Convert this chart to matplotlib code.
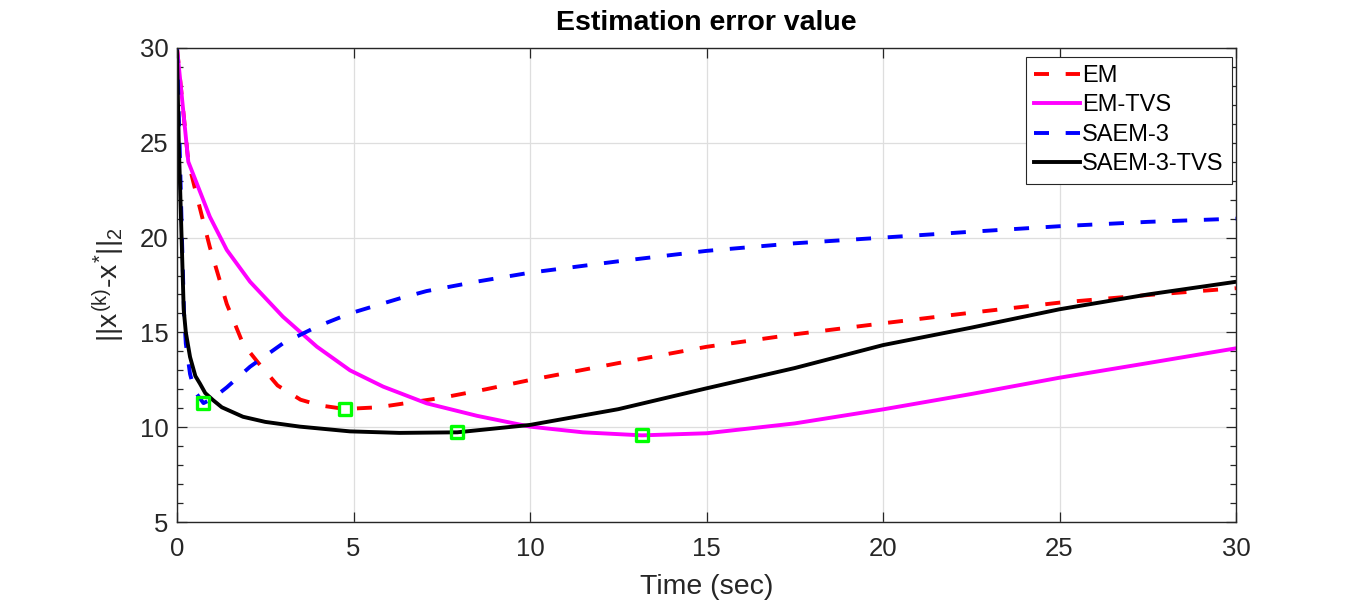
import matplotlib
matplotlib.use("Agg")
import matplotlib.pyplot as plt
from matplotlib.markers import MarkerStyle
from matplotlib.ticker import MultipleLocator

plt.rcParams['font.family'] = ['Liberation Sans', 'DejaVu Sans']
plt.rcParams['mathtext.fontset'] = 'custom'
plt.rcParams['mathtext.rm'] = 'Liberation Sans'
plt.rcParams['mathtext.it'] = 'Liberation Sans'
plt.rcParams['mathtext.bf'] = 'Liberation Sans:bold'
plt.rcParams['lines.scale_dashes'] = False

# ---- data ----
em_t = [0, 0.32, 0.56, 0.93, 1.41, 1.87, 2.3, 2.85, 3.5, 4.05, 4.76, 5.7, 6.6,
        7.5, 8.75, 10, 12.5, 15, 17.5, 20, 22.5, 25, 27.5, 30]
em_y = [30, 24.0, 22.2, 19.5, 16.5, 14.4, 13.4, 12.2, 11.45, 11.15, 10.96, 11.05, 11.3,
        11.55, 12.0, 12.49, 13.38, 14.24, 14.9, 15.48, 16.04, 16.57, 16.97, 17.33]

emtvs_t = [0, 0.32, 0.93, 1.41, 2.07, 3.0, 3.96, 4.9, 5.84, 7.07, 8.5, 10, 11.5,
           13.17, 15, 17.5, 20, 22.5, 25, 27.5, 30]
emtvs_y = [30, 24.0, 21.1, 19.35, 17.67, 15.83, 14.25, 13.0, 12.14, 11.26, 10.6, 10.03, 9.73,
           9.57, 9.68, 10.2, 10.94, 11.75, 12.61, 13.38, 14.16]

saem_t = [0, 0.08, 0.14, 0.2, 0.25, 0.37, 0.5, 0.75, 1.0, 1.41, 2.07, 3.0, 3.96, 4.9,
          6.32, 7.07, 8.5, 10, 12.5, 15, 17.5, 20, 22.5, 25, 27.5, 30]
saem_y = [30, 24.5, 20.0, 16.0, 14.4, 12.8, 11.9, 11.27, 11.5, 12.1, 13.19, 14.42, 15.3, 16.0,
          16.8, 17.18, 17.68, 18.15, 18.75, 19.3, 19.7, 20.0, 20.31, 20.6, 20.83, 21.0]

saemtvs_t = [0, 0.05, 0.13, 0.19, 0.25, 0.37, 0.52, 0.65, 0.8, 1.02, 1.27, 1.87, 2.5,
             3.48, 4.9, 6.3, 7.94, 10, 12.5, 15, 17.5, 20, 22.5, 25, 27.5, 30]
saemtvs_y = [29.8, 25.0, 20.0, 16.2, 15.0, 13.7, 12.7, 12.3, 11.8, 11.43, 11.05, 10.55, 10.28,
             10.03, 9.78, 9.7, 9.73, 10.12, 10.95, 12.05, 13.12, 14.33, 15.25, 16.22, 17.0, 17.67]

marker_t = [0.75, 4.76, 7.94, 13.17]
marker_y = [11.27, 10.96, 9.73, 9.57]

labels = ['EM', 'EM-TVS', 'SAEM-3', 'SAEM-3-TVS']
xticks = [0, 5, 10, 15, 20, 25, 30]
yticks = [5, 10, 15, 20, 25, 30]

# ---- figure ----
W, H = 1366, 604
fig = plt.figure(figsize=(W / 100, H / 100), dpi=100)
L, R, T, B = 177, 1236, 48, 522
ax = fig.add_axes([L / W, 1 - B / H, (R - L) / W, (B - T) / H])

lw = 2.8
dash = (10.8, 12.0)
ax.plot(em_t, em_y, color='#ff0000', lw=lw, dashes=dash, label=labels[0])
ax.plot(emtvs_t, emtvs_y, color='#ff00ff', lw=lw, label=labels[1])
ax.plot(saem_t, saem_y, color='#0000ff', lw=lw, dashes=dash, label=labels[2])
ax.plot(saemtvs_t, saemtvs_y, color='#000000', lw=lw, label=labels[3])

ms = MarkerStyle('s', fillstyle='none', joinstyle='round')
ax.plot(marker_t, marker_y, linestyle='none', marker=ms, markersize=8.2,
        markeredgewidth=2.4, markeredgecolor='#00ff00', zorder=5)

ax.set_xlim(0, 30)
ax.set_ylim(5, 30)
ax.set_xticks(xticks)
ax.set_yticks(yticks)
ax.yaxis.set_minor_locator(MultipleLocator(1))

dark = '#262626'
ax.grid(True, which='major', color='#dedede', lw=0.9)
ax.set_axisbelow(True)
for s in ax.spines.values():
    s.set_color(dark)
    s.set_linewidth(1.0)
ax.tick_params(which='both', direction='in', top=True, right=True, colors=dark,
               labelcolor=dark, width=0.9)
ax.tick_params(which='major', length=7.5, labelsize=18.5)
ax.tick_params(axis='x', which='major', pad=11)
ax.tick_params(axis='y', which='major', pad=6)
ax.tick_params(which='minor', length=4.5)

ax.set_title('Estimation error value', fontsize=20.5, fontweight='bold', pad=13)
ax.set_xlabel('Time (sec)', fontsize=20.5, color=dark, labelpad=9)
ax.set_ylabel(r'$||x^{(k)}$-$x^{*}||_{2}$', fontsize=20.5, color=dark)
ax.yaxis.set_label_coords(-0.047, 0.5)

leg = ax.legend(loc='upper right', bbox_to_anchor=(0.996, 0.982), borderaxespad=0,
                fontsize=17, handlelength=1.95, handletextpad=0.08, labelspacing=0.32,
                borderpad=0.35, fancybox=False, framealpha=1, edgecolor='#262626')
leg.get_frame().set_linewidth(0.8)

fig.savefig('out.png', dpi=100)
